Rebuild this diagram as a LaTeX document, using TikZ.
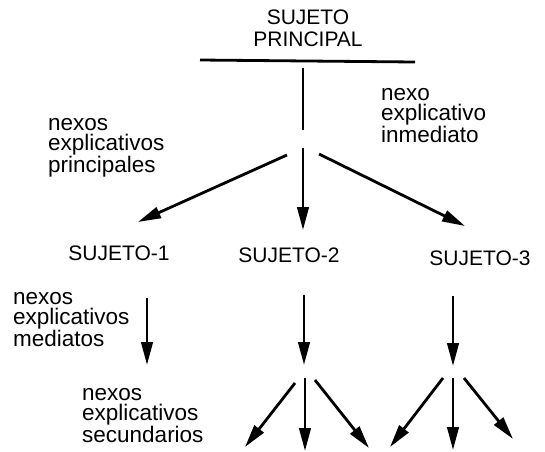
\documentclass[tikz,border=0pt]{standalone}
\usepackage{fontspec}
\setmainfont{Liberation Sans}
\usetikzlibrary{arrows.meta}
\begin{document}
\begin{tikzpicture}[x=1pt,y=-1pt,
  lbl/.style={inner sep=0pt, font=\fontsize{21}{21}\selectfont},
  multi/.style={inner sep=0pt, align=left, anchor=north west, font=\fontsize{22.5}{20.5}\selectfont},
  ln/.style={line width=2.8pt},
  arr/.style={line width=2.8pt, -{Triangle[length=23pt,width=11.5pt]}}]
\useasboundingbox (0,0) rectangle (545,451);
% title
\node[lbl, align=center, anchor=north, font=\fontsize{21}{22}\selectfont] (title) at (308,10) {SUJETO\\PRINCIPAL};
\coordinate (hlA) at (200,60);
\coordinate (hlB) at (415,62);
\draw[ln] (hlA) -- (hlB);
\coordinate (stemA) at (303,68);
\coordinate (stemB) at (303,130);
\draw[ln] (stemA) -- (stemB);
% labels
\node[multi] (lp) at (48,118) {nexos\\explicativos\\principales};
\node[multi] (li) at (381,88) {nexo\\explicativo\\inmediato};
\node[lbl] (s1) at (119,253) {SUJETO-1};
\node[lbl] (s2) at (289,255) {SUJETO-2};
\node[lbl] (s3) at (480,258) {SUJETO-3};
\node[multi] (lm) at (13,292) {nexos\\explicativos\\mediatos};
\node[multi] (ls) at (82,388) {nexos\\explicativos\\secundarios};
% main arrows
\coordinate (a1s) at (287,155); \coordinate (a1e) at (138,222);
\coordinate (a2s) at (303,148); \coordinate (a2e) at (303,230);
\coordinate (a3s) at (319,154); \coordinate (a3e) at (465,226);
\draw[arr] (a1s) -- (a1e);
\draw[arr] (a2s) -- (a2e);
\draw[arr] (a3s) -- (a3e);
% column 1
\coordinate (c1s) at (147,298); \coordinate (c1e) at (147,365);
\draw[arr] (c1s) -- (c1e);
% column 2
\coordinate (c2s) at (304,295); \coordinate (c2e) at (304,365);
\draw[arr] (c2s) -- (c2e);
\coordinate (d2as) at (295,383); \coordinate (d2ae) at (245,447);
\coordinate (d2bs) at (305,378); \coordinate (d2be) at (305,451);
\coordinate (d2cs) at (315,380); \coordinate (d2ce) at (369,448);
\draw[arr] (d2as) -- (d2ae);
\draw[arr] (d2bs) -- (d2be);
\draw[arr] (d2cs) -- (d2ce);
% column 3
\coordinate (c3s) at (453,296); \coordinate (c3e) at (453,366);
\draw[arr] (c3s) -- (c3e);
\coordinate (d3as) at (443,378); \coordinate (d3ae) at (390,447);
\coordinate (d3bs) at (453,378); \coordinate (d3be) at (453,450);
\coordinate (d3cs) at (464,378); \coordinate (d3ce) at (513,439);
\draw[arr] (d3as) -- (d3ae);
\draw[arr] (d3bs) -- (d3be);
\draw[arr] (d3cs) -- (d3ce);
\end{tikzpicture}
\end{document}
